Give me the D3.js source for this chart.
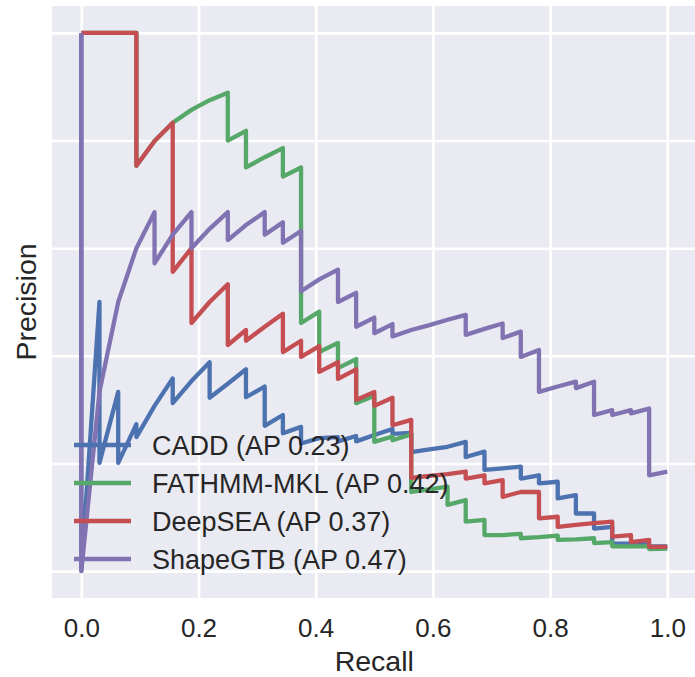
<!DOCTYPE html>
<html>
<head>
<meta charset="utf-8">
<script src="https://cdn.jsdelivr.net/npm/d3@7"></script>
<style>
  body { margin: 0; background: #fff; }
  svg text { font-family: "Liberation Sans", Arial, sans-serif; fill: #262626; }
</style>
</head>
<body>
<div id="chart"></div>
<script>
// Data - [recall, precision] pairs
var caddPR = [[0,1],[0,0],[0.031,0.5],[0.031,0.201],[0.063,0.333],[0.063,0.201],[0.094,0.273],[0.094,0.249],
  [0.125,0.307],[0.156,0.358],[0.156,0.312],[0.188,0.353],[0.219,0.388],[0.219,0.322],[0.25,0.348],[0.281,0.375],
  [0.281,0.323],[0.313,0.343],[0.313,0.27],[0.344,0.29],[0.344,0.256],[0.375,0.268],[0.375,0.237],[0.406,0.247],
  [0.438,0.249],[0.438,0.241],[0.469,0.251],[0.469,0.241],[0.5,0.253],[0.531,0.264],[0.531,0.255],[0.563,0.257],
  [0.563,0.221],[0.594,0.226],[0.625,0.231],[0.656,0.24],[0.656,0.212],[0.688,0.222],[0.688,0.188],[0.719,0.191],
  [0.75,0.194],[0.75,0.172],[0.781,0.178],[0.781,0.163],[0.813,0.166],[0.813,0.135],[0.844,0.141],[0.844,0.107],
  [0.875,0.107],[0.875,0.079],[0.906,0.082],[0.906,0.051],[0.938,0.051],[0.969,0.051],[0.969,0.046],[1,0.046]];

var fathmmPR = [[0,1],[0.094,1],[0.094,0.753],[0.125,0.799],[0.156,0.833],[0.188,0.857],[0.219,0.875],[0.25,0.889],
  [0.25,0.8],[0.281,0.818],[0.281,0.75],[0.313,0.769],[0.344,0.786],[0.344,0.733],[0.375,0.75],[0.375,0.461],
  [0.406,0.482],[0.406,0.407],[0.438,0.424],[0.438,0.377],[0.469,0.394],[0.469,0.312],[0.5,0.326],[0.5,0.24],
  [0.531,0.25],[0.531,0.243],[0.563,0.254],[0.563,0.147],[0.594,0.152],[0.625,0.157],[0.625,0.123],[0.656,0.132],
  [0.656,0.092],[0.688,0.095],[0.688,0.067],[0.719,0.067],[0.75,0.069],[0.75,0.061],[0.781,0.063],[0.813,0.066],
  [0.813,0.058],[0.844,0.059],[0.875,0.061],[0.875,0.052],[0.906,0.054],[0.906,0.046],[0.938,0.046],[0.969,0.046],
  [0.969,0.041],[1,0.042]];

var deepseaPR = [[0,1],[0.094,1],[0.094,0.753],[0.125,0.799],[0.156,0.833],[0.156,0.556],[0.188,0.6],[0.188,0.461],
  [0.219,0.5],[0.25,0.533],[0.25,0.42],[0.281,0.448],[0.281,0.428],[0.313,0.454],[0.344,0.478],[0.344,0.407],
  [0.375,0.428],[0.375,0.398],[0.406,0.418],[0.406,0.37],[0.438,0.388],[0.438,0.357],[0.469,0.375],[0.469,0.318],
  [0.5,0.333],[0.5,0.307],[0.531,0.322],[0.531,0.271],[0.563,0.281],[0.563,0.173],[0.594,0.177],[0.625,0.18],
  [0.656,0.185],[0.656,0.172],[0.688,0.178],[0.688,0.163],[0.719,0.169],[0.719,0.138],[0.75,0.147],[0.781,0.147],
  [0.781,0.098],[0.813,0.101],[0.813,0.082],[0.844,0.086],[0.875,0.089],[0.906,0.092],[0.906,0.064],[0.938,0.067],
  [0.938,0.054],[0.969,0.058],[0.969,0.045],[1,0.045]];

var shapegtbPR = [[0,1],[0,0],[0.031,0.333],[0.063,0.5],[0.094,0.6],[0.125,0.667],[0.125,0.572],[0.156,0.625],
  [0.188,0.667],[0.188,0.6],[0.219,0.636],[0.25,0.667],[0.25,0.615],[0.281,0.643],[0.313,0.667],[0.313,0.625],
  [0.344,0.648],[0.344,0.61],[0.375,0.632],[0.375,0.52],[0.406,0.542],[0.438,0.56],[0.438,0.5],[0.469,0.517],
  [0.469,0.454],[0.5,0.471],[0.5,0.442],[0.531,0.459],[0.531,0.436],[0.563,0.448],[0.594,0.457],[0.625,0.467],
  [0.656,0.476],[0.656,0.439],[0.688,0.45],[0.719,0.46],[0.719,0.433],[0.75,0.445],[0.75,0.398],[0.781,0.411],
  [0.781,0.333],[0.813,0.343],[0.844,0.352],[0.844,0.34],[0.875,0.352],[0.875,0.29],[0.906,0.299],[0.906,0.29],
  [0.938,0.299],[0.938,0.293],[0.969,0.302],[0.969,0.178],[1,0.185]];

var seriesNames = ["CADD (AP 0.23)", "FATHMM-MKL (AP 0.42)", "DeepSEA (AP 0.37)", "ShapeGTB (AP 0.47)"];
var seriesData = [caddPR, fathmmPR, deepseaPR, shapegtbPR];
var seriesColors = ["#4C72B0", "#55A868", "#C44E52", "#8172B2"];
var tickValues = [0, 0.2, 0.4, 0.6, 0.8, 1.0];

// Canvas setup
var width = 695, height = 677;
var plotLeft = 52, plotRight = 696.6, plotTop = 6, plotBottom = 598;

var svg = d3.select("#chart").append("svg")
  .attr("width", width)
  .attr("height", height);

var x = d3.scaleLinear().domain([-0.05, 1.05]).range([plotLeft, plotRight]);
var y = d3.scaleLinear().domain([-0.05, 1.05]).range([plotBottom, plotTop]);

// background
svg.append("rect")
  .attr("x", plotLeft).attr("y", plotTop)
  .attr("width", plotRight - plotLeft).attr("height", plotBottom - plotTop)
  .attr("fill", "#EAEAF2");

// grid lines
var xGrid = svg.append("g")
  .attr("transform", "translate(0," + plotBottom + ")")
  .call(d3.axisBottom(x).tickValues(tickValues).tickSize(-(plotBottom - plotTop)).tickFormat(""));
var yGrid = svg.append("g")
  .attr("transform", "translate(" + plotLeft + ",0)")
  .call(d3.axisLeft(y).tickValues(tickValues).tickSize(-(plotRight - plotLeft)).tickFormat(""));
[xGrid, yGrid].forEach(function (g) {
  g.select(".domain").remove();
  g.selectAll(".tick line").attr("stroke", "#fff").attr("stroke-width", 2.6);
});

// x tick labels
var xAxis = svg.append("g")
  .attr("transform", "translate(0," + plotBottom + ")")
  .call(d3.axisBottom(x).tickValues(tickValues).tickSize(0).tickFormat(d3.format(".1f")));
xAxis.select(".domain").remove();
xAxis.selectAll("text")
  .attr("y", 39).attr("dy", 0)
  .style("font-size", "26px")
  .style("font-family", "'Liberation Sans', Arial, sans-serif")
  .attr("fill", "#262626");

// axis titles
svg.append("text")
  .attr("x", (plotLeft + plotRight) / 2)
  .attr("y", 671)
  .attr("text-anchor", "middle")
  .style("font-size", "28.5px")
  .text("Recall");

svg.append("text")
  .attr("transform", "translate(36," + (plotTop + plotBottom) / 2 + ") rotate(-90)")
  .attr("text-anchor", "middle")
  .style("font-size", "28.5px")
  .text("Precision");

// curves
var line = d3.line()
  .x(function (d) { return x(d[0]); })
  .y(function (d) { return y(d[1]); });

seriesData.forEach(function (data, i) {
  svg.append("path")
    .datum(data)
    .attr("fill", "none")
    .attr("stroke", seriesColors[i])
    .attr("stroke-width", 4.3)
    .attr("stroke-linejoin", "round")
    .attr("d", line);
});

// legend
var legend = svg.append("g").attr("class", "legend");
seriesNames.forEach(function (name, i) {
  var ly = 445 + i * 38;
  legend.append("line")
    .attr("x1", 74).attr("x2", 131)
    .attr("y1", ly).attr("y2", ly)
    .attr("stroke", seriesColors[i])
    .attr("stroke-width", 4.3);
  legend.append("text")
    .attr("x", 152)
    .attr("y", ly)
    .attr("dy", "0.36em")
    .style("font-size", "27px")
    .text(name);
});
</script>
</body>
</html>
